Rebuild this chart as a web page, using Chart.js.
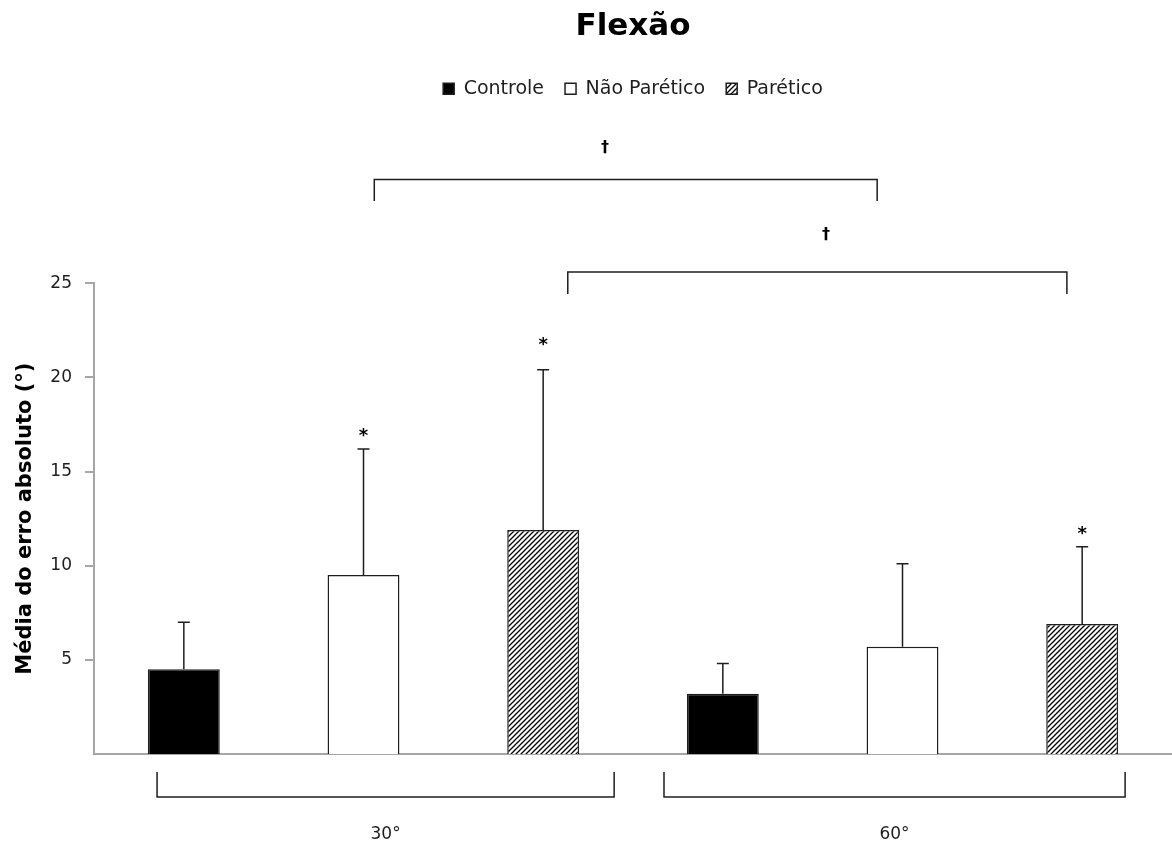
<!DOCTYPE html>
<html>
<head>
<meta charset="utf-8">
<script src="https://cdn.jsdelivr.net/npm/chart.js@4.4.0/dist/chart.umd.min.js"></script>
<style>
  html, body { margin: 0; padding: 0; background: #fff; }
  #wrap { width: 1172px; height: 845px; }
</style>
</head>
<body>
<div id="wrap"><canvas id="flexaoChart"></canvas></div>
<script>
const groups = ['30°', '60°'];
const seriesNames = ['Controle', 'Não Parético', 'Parético'];

const controleMean = [4.5, 3.2];
const naoPareticoMean = [9.5, 5.7];
const pareticoMean = [11.9, 6.9];

const controleSD = [2.5, 1.6];
const naoPareticoSD = [6.7, 4.4];
const pareticoSD = [8.5, 4.1];

// altura do asterisco (null = sem marca)
const controleStar = [null, null];
const naoPareticoStar = [17.1, null];
const pareticoStar = [21.9, 11.9];

const yTicks = [5, 10, 15, 20, 25];

const FONT = '"DejaVu Sans", Verdana, sans-serif';
const INK = '#1e1e1e';
const AXIS = '#a6a6a6';

function makeHatch(ctx) {
    const s = 5;
    const c = document.createElement('canvas');
    c.width = s;
    c.height = s;
    const g = c.getContext('2d');
    g.fillStyle = '#fff';
    g.fillRect(0, 0, s, s);
    g.strokeStyle = '#000';
    g.lineWidth = 1.3;
    g.beginPath();
    g.moveTo(0, s); g.lineTo(s, 0);
    g.moveTo(-1, 1); g.lineTo(1, -1);
    g.moveTo(s - 1, s + 1); g.lineTo(s + 1, s - 1);
    g.stroke();
    return ctx.createPattern(c, 'repeat');
}

// espaço extra abaixo da legenda (para os colchetes de significância)
const legendSpacer = {
    id: 'legendSpacer',
    beforeInit(chart) {
        const fit = chart.legend.fit;
        chart.legend.fit = function () {
            fit.call(this);
            this.height += 175;
        };
    }
};

const errorBars = {
    id: 'errorBars',
    afterDatasetsDraw(chart) {
        const { ctx, scales: { y } } = chart;
        ctx.save();
        ctx.strokeStyle = INK;
        ctx.lineWidth = 1.5;
        ctx.fillStyle = '#000';
        ctx.font = 'bold 18px ' + FONT;
        ctx.textAlign = 'center';
        ctx.textBaseline = 'middle';
        chart.data.datasets.forEach((ds, i) => {
            const meta = chart.getDatasetMeta(i);
            meta.data.forEach((bar, j) => {
                const top = y.getPixelForValue(ds.data[j] + ds.sd[j]);
                ctx.beginPath();
                ctx.moveTo(bar.x, bar.y);
                ctx.lineTo(bar.x, top);
                ctx.moveTo(bar.x - 6, top);
                ctx.lineTo(bar.x + 6, top);
                ctx.stroke();
                if (ds.star[j] != null) {
                    ctx.fillText('*', bar.x, y.getPixelForValue(ds.star[j]) + 4);
                }
            });
        });
        ctx.restore();
    }
};

// colchetes: x em unidades de categoria, y em unidades do eixo
const brackets = {
    id: 'brackets',
    afterDraw(chart) {
        const { ctx, scales: { x, y } } = chart;
        const px = v => x.getPixelForValue(v);
        const py = v => y.getPixelForValue(v);
        ctx.save();
        ctx.strokeStyle = INK;
        ctx.lineWidth = 1.5;
        ctx.fillStyle = '#000';
        ctx.textAlign = 'center';
        ctx.textBaseline = 'middle';

        // † acima
        [[0.02, 0.953, 30.5, 29.37, 0.448, 32.2],
         [0.379, 1.305, 25.6, 24.43, 0.858, 27.56]].forEach(([a, b, line, leg, mx, my]) => {
            ctx.beginPath();
            ctx.moveTo(px(a), py(leg));
            ctx.lineTo(px(a), py(line));
            ctx.lineTo(px(b), py(line));
            ctx.lineTo(px(b), py(leg));
            ctx.stroke();
            ctx.font = 'bold 16px ' + FONT;
            ctx.fillText('†', px(mx), py(my));
        });

        // grupos abaixo do eixo
        [[-0.383, 0.465], [0.5575, 1.413]].forEach(([a, b], i) => {
            ctx.beginPath();
            ctx.moveTo(px(a), py(-0.96));
            ctx.lineTo(px(a), py(-2.28));
            ctx.lineTo(px(b), py(-2.28));
            ctx.lineTo(px(b), py(-0.96));
            ctx.stroke();
            ctx.font = '17px ' + FONT;
            ctx.fillStyle = INK;
            ctx.fillText(groups[i], px((a + b) / 2), py(-4.3));
        });
        ctx.restore();
    }
};

const ctx = document.getElementById('flexaoChart').getContext('2d');
const hatch = makeHatch(ctx);

const datasets = [
    { label: seriesNames[0], data: controleMean, sd: controleSD, star: controleStar, backgroundColor: '#000' },
    { label: seriesNames[1], data: naoPareticoMean, sd: naoPareticoSD, star: naoPareticoStar, backgroundColor: '#fff' },
    { label: seriesNames[2], data: pareticoMean, sd: pareticoSD, star: pareticoStar, backgroundColor: hatch }
].map(d => Object.assign({
    borderColor: INK,
    borderWidth: 1.5,
    categoryPercentage: 1.0,
    barPercentage: 0.4
}, d));

new Chart(ctx, {
    type: 'bar',
    data: { labels: groups, datasets },
    plugins: [legendSpacer, errorBars, brackets],
    options: {
        responsive: true,
        maintainAspectRatio: false,
        animation: false,
        layout: { padding: { top: 0, right: 0, bottom: 91, left: 0 } },
        plugins: {
            title: {
                display: true,
                text: 'Flexão',
                fullSize: false,
                color: '#000',
                font: { family: FONT, size: 31, weight: 'bold' },
                padding: { top: 8, bottom: 13 }
            },
            legend: {
                fullSize: false,
                labels: {
                    boxWidth: 11,
                    boxHeight: 11,
                    padding: 21,
                    color: INK,
                    font: { family: FONT, size: 19 }
                }
            },
            tooltip: { enabled: false }
        },
        scales: {
            x: {
                grid: { display: false, drawTicks: false },
                border: { color: AXIS, width: 2 },
                ticks: { display: false }
            },
            y: {
                min: 0,
                max: 25,
                afterBuildTicks: axis => { axis.ticks = yTicks.map(v => ({ value: v })); },
                afterFit: axis => { axis.width = 94; },
                grid: { drawOnChartArea: false, tickLength: 9, color: AXIS, lineWidth: 2 },
                border: { color: AXIS, width: 2 },
                ticks: { padding: 13, color: INK, font: { family: FONT, size: 17 } },
                title: {
                    display: true,
                    text: 'Média do erro absoluto (°)',
                    color: '#000',
                    font: { family: FONT, size: 21, weight: 'bold' },
                    padding: { top: 13, bottom: 0 }
                }
            }
        }
    }
});
</script>
</body>
</html>
